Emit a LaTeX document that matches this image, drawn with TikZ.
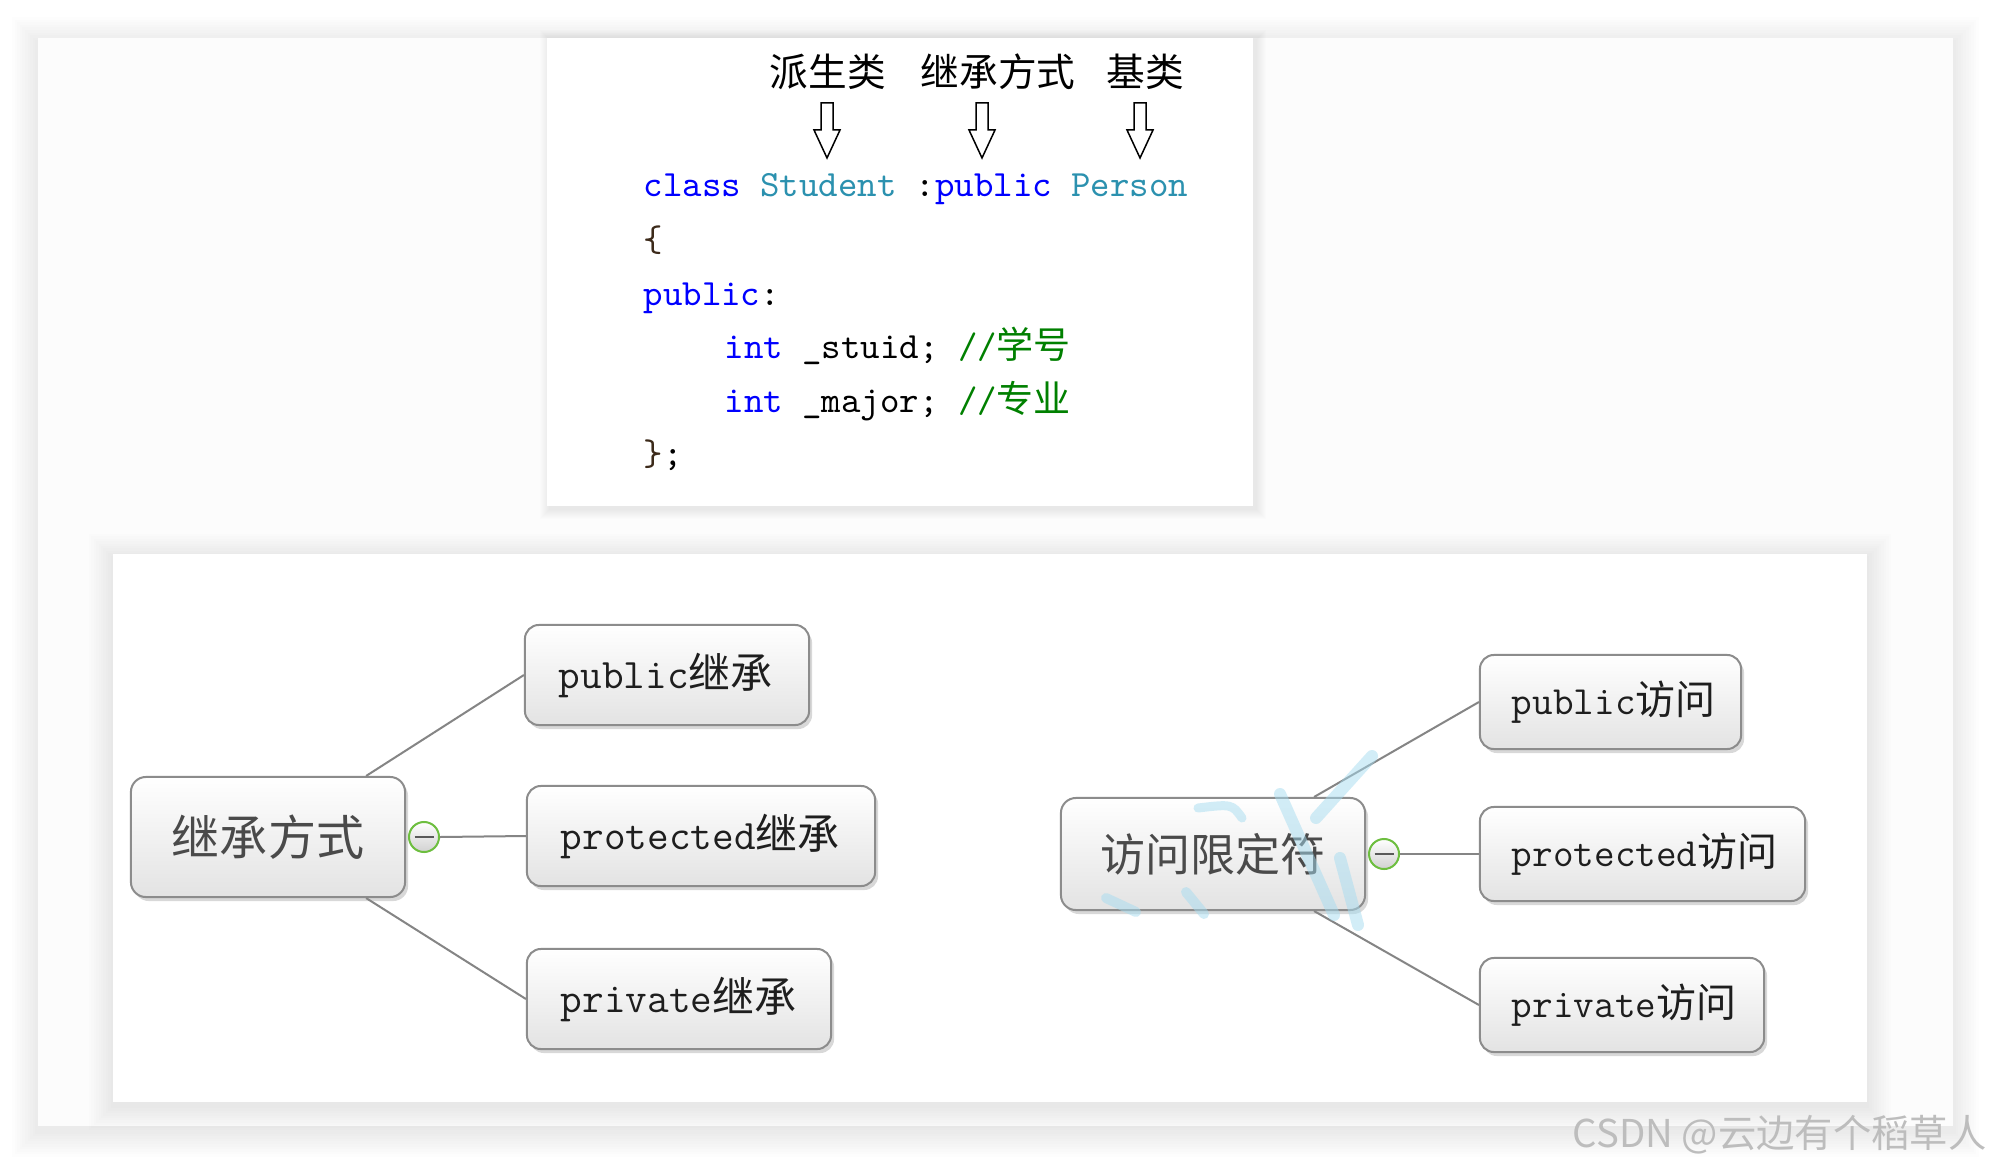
\documentclass[tikz,border=0pt]{standalone}
\usepackage{fontspec}
\newfontfamily\cjk{Noto Sans CJK SC}
\usetikzlibrary{calc,shadows}
\definecolor{kwblue}{HTML}{0000FF}
\definecolor{typeteal}{HTML}{2B91AF}
\definecolor{cmtgreen}{HTML}{008000}
\definecolor{bracebrown}{HTML}{3C2A1A}
\definecolor{boxline}{HTML}{8C8C8C}
\definecolor{connline}{HTML}{858585}
\definecolor{togglegreen}{HTML}{6DBE3F}
\definecolor{roottext}{HTML}{4A4A4A}
\definecolor{childtext}{HTML}{1E1E1E}
\definecolor{wmblue}{HTML}{A6DCF0}
\newcommand\softshadow[6]{% x1 y1 x2 y2 step yshift
  \foreach \i in {1,...,10}{\fill[black,opacity=0.008] ({#1-\i*#5},{#2-\i*#5+#6}) rectangle ({#3+\i*#5},{#4+\i*#5+#6});}}
\newcommand\codefont{\ttfamily\fontsize{10.53pt}{12pt}\selectfont}
\newcommand\hollowarrow[1]{%
  \draw[line width=0.15mm, fill=white, line join=miter] (#1-6,103) -- (#1+6,103) -- (#1+6,130) -- (#1+13,130) -- (#1,158) -- (#1-13,130) -- (#1-6,130) -- cycle;}
\tikzset{
  codeline/.style={anchor=base west, inner sep=0pt, font=\codefont},
  heading/.style={inner sep=0pt, font=\cjk\fontsize{11pt}{13pt}\selectfont, text=black},
  rootbox/.style={rounded corners=1.5mm, draw=boxline, line width=0.2mm, top color=white, bottom color=black!11,
    drop shadow={shadow xshift=0.3mm, shadow yshift=-0.4mm, opacity=0.3, fill=black!50},
    inner sep=0pt, text=roottext},
  cbox/.style={rounded corners=1.4mm, draw=boxline, line width=0.2mm, top color=white, bottom color=black!11,
    drop shadow={shadow xshift=0.3mm, shadow yshift=-0.4mm, opacity=0.3, fill=black!50},
    inner ysep=0pt, align=left, text=childtext},
  cboxL/.style={cbox, inner xsep=3.4mm, minimum height=10mm, font=\ttfamily\fontsize{11.95pt}{14pt}\selectfont},
  cboxR/.style={cbox, inner xsep=3.2mm, minimum height=9.4mm, font=\ttfamily\fontsize{11.38pt}{13pt}\selectfont},
  togglec/.style={circle, draw=togglegreen, line width=0.2mm, top color=white, bottom color=black!18,
    minimum size=3mm, inner sep=0pt,
    path picture={\draw[black!65, line width=0.2mm] ([xshift=-0.95mm]path picture bounding box.center) -- ([xshift=0.95mm]path picture bounding box.center);}},
  conn/.style={draw=connline, line width=0.2mm},
  wmstroke/.style={draw=wmblue, line width=1.2mm, opacity=0.5, line cap=round},
}
\begin{document}
\begin{tikzpicture}[x=0.01cm, y=-0.01cm]
\useasboundingbox (0,0) rectangle (1992,1164);
\fill[white] (0,0) rectangle (1992,1164);
% outer panel
\softshadow{38}{38}{1953}{1126}{2.6}{5}
\fill[white!99!black] (38,38) rectangle (1953,1126);
% code box
\softshadow{550}{40}{1256}{509}{1.0}{0}
\fill[white] (547,38) rectangle (1253,506);
% bottom panel
\softshadow{113}{554}{1867}{1102}{2.4}{4}
\fill[white] (113,554) rectangle (1867,1102);

% headings
\node[heading] (h1) at (828,72) {派生类};
\node[heading] (h2) at (998,72) {继承方式};
\node[heading] (h3) at (1145,72) {基类};
\hollowarrow{827}
\hollowarrow{982}
\hollowarrow{1140}

% code
\node[codeline] (l1) at (643,197) {\textcolor{kwblue}{class} \textcolor{typeteal}{Student} :\textcolor{kwblue}{public} \textcolor{typeteal}{Person}};
\node[codeline] (l2) at (643,252) {\textcolor{bracebrown}{\{}};
\node[codeline] (l3) at (643,305) {\textcolor{kwblue}{public}:};
\node[codeline] (l4) at (724,358) {\textcolor{kwblue}{int} \_stuid; \textcolor{cmtgreen}{//{\cjk 学号}}};
\node[codeline] (l5) at (724,412) {\textcolor{kwblue}{int} \_major; \textcolor{cmtgreen}{//{\cjk 专业}}};
\node[codeline] (l6) at (643,465) {\textcolor{bracebrown}{\}};};

% left mind map
\node[rootbox, minimum width=27.4mm, minimum height=12mm, font=\cjk\fontsize{13.66pt}{16pt}\selectfont] (root1) at (268,837) {继承方式};
\node[togglec] (c1) at (424,837) {};
\node[cboxL, text width=21.6mm] (pub1) at (667,675) {public{\cjk 继承}};
\node[cboxL, text width=28.0mm] (prot1) at (701,836) {protected{\cjk 继承}};
\node[cboxL, text width=23.6mm] (priv1) at (679,999) {private{\cjk 继承}};
\draw[conn] ($(root1.north east)+(-40,0)$) -- (pub1.west);
\draw[conn] (c1.east) -- (prot1.west);
\draw[conn] ($(root1.south east)+(-40,0)$) -- (priv1.west);

% right mind map
\node[rootbox, minimum width=30.4mm, minimum height=11.2mm, font=\cjk\fontsize{12.8pt}{15pt}\selectfont] (root2) at (1213,854) {访问限定符};
\node[togglec] (c2) at (1384,854) {};
\node[cboxR, text width=19.7mm] (pub2) at (1610.5,702) {public{\cjk 访问}};
\node[cboxR, text width=26.1mm] (prot2) at (1642.5,854) {protected{\cjk 访问}};
\node[cboxR, text width=22.0mm] (priv2) at (1622,1005) {private{\cjk 访问}};
\draw[conn] ($(root2.north east)+(-52,0)$) -- (pub2.west);
\draw[conn] (c2.east) -- (prot2.west);
\draw[conn] ($(root2.south east)+(-52,0)$) -- (priv2.west);

% faint blue watermark strokes over the right root
\draw[wmstroke] (1280,794) -- (1334,915);
\draw[wmstroke] (1372,756) -- (1316,818);
\draw[wmstroke] (1340,858) -- (1358,925);
\draw[wmstroke, line width=0.9mm] (1198,808) .. controls (1232,804) .. (1242,818);
\draw[wmstroke, line width=1.0mm] (1106,898) -- (1136,912);
\draw[wmstroke, line width=1.0mm] (1186,892) -- (1204,914);

% watermark
\node[anchor=base east, inner sep=0pt, font=\cjk\fontsize{10.9pt}{13pt}\selectfont, text=black!26] (wm) at (1987,1147) {CSDN @云边有个稻草人};
\end{tikzpicture}
\end{document}
